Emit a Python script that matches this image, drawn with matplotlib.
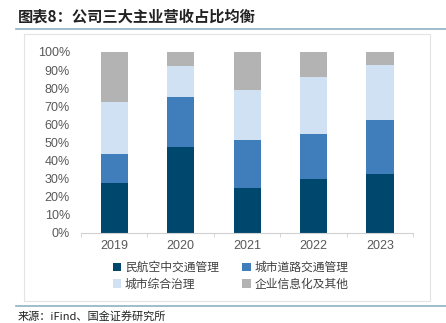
import matplotlib
matplotlib.use("Agg")
import matplotlib.pyplot as plt
from matplotlib.patches import Rectangle
from matplotlib.lines import Line2D
import numpy as np

plt.rcParams['font.family'] = ['Noto Sans CJK SC', 'DejaVu Sans']

years = ['2019', '2020', '2021', '2022', '2023']
civil_aviation = [27.3, 47.6, 24.9, 29.7, 32.3]
urban_road = [16.4, 27.7, 26.4, 24.8, 30.1]
urban_governance = [28.5, 16.8, 27.5, 31.8, 30.4]
informatization = [27.8, 7.9, 21.2, 13.7, 7.2]

series_names = ['民航空中交通管理', '城市道路交通管理', '城市综合治理', '企业信息化及其他']
colors = ['#00476E', '#3F7EBB', '#CFE1F2', '#B3B3B3']
title = '图表8：公司三大主业营收占比均衡'
source = '来源：iFind、国金证券研究所'

W, H = 446, 323
fig = plt.figure(figsize=(W / 100, H / 100), dpi=100)

def fx(x):
    return x / W

def fy(y):
    return 1 - y / H

# title and decoration lines
fig.text(fx(18), fy(16), title, fontsize=11, fontweight='bold', fontstyle='italic',
         color='#222222', va='center', ha='left')
fig.add_artist(Line2D([fx(16), 1], [fy(28.5), fy(28.5)], color='#8FB2C4', lw=1.2))
fig.add_artist(Line2D([fx(16), 1], [fy(305.5), fy(305.5)], color='#8FB2C4', lw=1.2))
fig.add_artist(Rectangle((fx(24), fy(300.5)), fx(430 - 24), (300.5 - 34) / H,
                         fill=False, edgecolor='#E3E3E3', lw=0.8))
fig.text(fx(18), fy(316), source, fontsize=8, color='#222222', va='center', ha='left')

ax = fig.add_axes([fx(81), fy(232.7), fx(413.3 - 81), (232.7 - 52) / H])
x = np.arange(len(years))
data = [civil_aviation, urban_road, urban_governance, informatization]
bottom = np.zeros(len(years))
handles = []
for vals, c, name in zip(data, colors, series_names):
    h = ax.bar(x, vals, bottom=bottom, width=0.41, color=c, label=name, zorder=2)
    handles.append(h)
    bottom += np.array(vals)

ax.set_xlim(-0.5, len(years) - 0.5)
ax.set_ylim(0, 100)
ax.set_yticks(np.arange(0, 101, 10))
ax.set_yticklabels([f'{v}%' for v in range(0, 101, 10)], family=['Liberation Sans'])
ax.set_xticks(x)
ax.set_xticklabels(years, family=['Liberation Sans'])
ax.set_xticks(np.arange(-0.5, len(years), 1), minor=True)
for s in ['top', 'right', 'left']:
    ax.spines[s].set_visible(False)
ax.spines['bottom'].set_color('#D0D0D0')
ax.tick_params(axis='y', length=0, labelsize=9, labelcolor='#595959', pad=8)
ax.tick_params(axis='x', which='major', length=0, labelsize=9, labelcolor='#595959', pad=5)
ax.tick_params(axis='x', which='minor', length=3, color='#D0D0D0', direction='out')

order = [0, 2, 1, 3]
leg = fig.legend([handles[i] for i in order], [series_names[i] for i in order],
                 loc='upper left', bbox_to_anchor=(fx(113), fy(261)), ncol=2,
                 frameon=False, fontsize=8.5, handlelength=0.7, handleheight=0.7,
                 handletextpad=0.3, columnspacing=2.0, labelspacing=0.3,
                 borderaxespad=0, borderpad=0)
for t in leg.get_texts():
    t.set_color('#404040')

fig.savefig('out.png', dpi=100)
